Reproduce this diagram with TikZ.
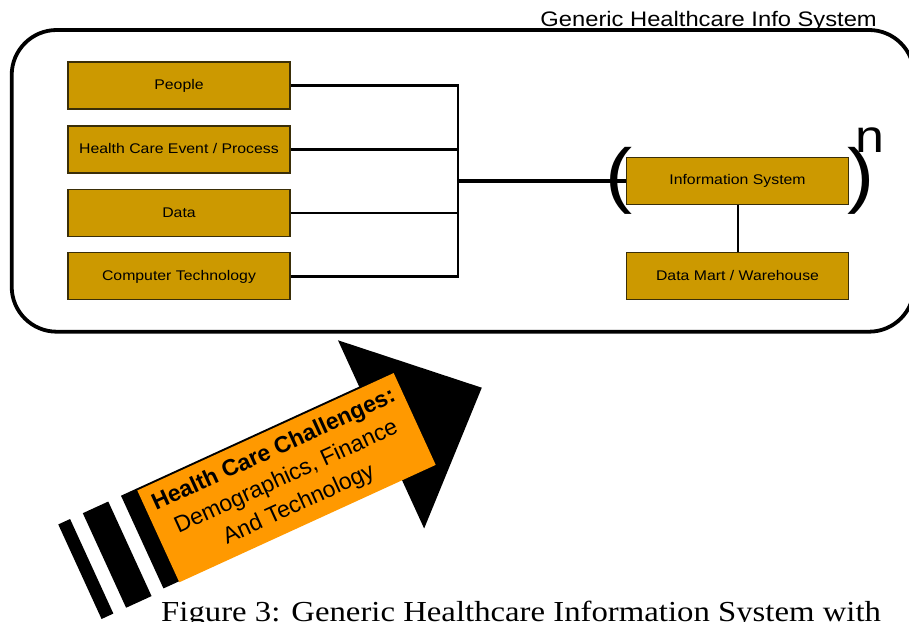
\documentclass[tikz,border=0pt]{standalone}
\usepackage{fontspec}
\setmainfont[FakeStretch=1.13]{Liberation Sans}
\newfontfamily\arrowfont{Liberation Sans}
\newfontfamily\captionfont[FakeStretch=1.13]{Liberation Serif}
\usetikzlibrary{calc}
\definecolor{boxgold}{HTML}{CC9900}
\definecolor{boxedge}{HTML}{3A2E08}
\definecolor{challenge}{HTML}{FF9900}
\tikzstyle{box}=[draw=boxedge,fill=boxgold,line width=1.2pt,minimum width=222pt,minimum height=47pt,inner sep=0pt,text height=0.8em,text depth=0pt,font=\fontsize{14}{16}\selectfont]
\tikzstyle{link}=[line width=2.7pt]
\tikzstyle{trunk}=[line width=4.5pt]
\tikzstyle{paren}=[inner sep=0pt,font=\fontsize{72}{80}\selectfont]
\begin{document}
\begin{tikzpicture}[x=1pt,y=-1pt]
	\clip (0,0) rectangle (909,621);
	\draw[line width=3.8pt,rounded corners=45pt] (11.7,30) rectangle (914,331.7);
	\node[anchor=base east,inner sep=0pt,font=\fontsize{21}{24}\selectfont] (title) at (877,26) {Generic Healthcare Info System};
	\node[box] (people) at (179,85.5) {People};
	\node[box] (event) at (179,149.5) {Health Care Event / Process};
	\node[box] (data) at (179,213) {Data};
	\node[box] (tech) at (179,276.3) {Computer Technology};
	\coordinate (bus) at (458,180.8);
	\draw[link] (people.east) -| (bus);
	\draw[link] (event.east) -| (bus);
	\draw[link] (data.east) -| (bus);
	\draw[link] (tech.east) -| (bus);
	\node[box] (info) at (737.5,180.8) {Information System};
	\node[box] (mart) at (737.5,276.3) {Data Mart / Warehouse};
	\draw[trunk] (bus) -- (info.west);
	\draw[line width=2pt] (info.south) -- (mart.north);
	\node[paren] (lpar) at (619,181) {(};
	\node[paren] (rpar) at (861.5,181) {)};
	\node[anchor=base west,inner sep=0pt,font=\fontsize{46}{50}\selectfont] (power) at (855,152) {n};
	\begin{scope}[shift={(121,495.7)},rotate=24.6]
		\fill (-69,0) rectangle (-56,104);
		\fill (-42,0) rectangle (-14,104);
		\fill (0,0) rectangle (270,102);
		\fill (262,-51) -- (373,52) -- (262,156) -- cycle;
		\node[fill=challenge,rotate=24.6,minimum width=282pt,minimum height=101pt,inner sep=0pt,align=center,font=\arrowfont\fontsize{23}{30}\selectfont] (challenges) at (158,52.5) {{\bfseries Health Care Challenges:}\\Demographics, Finance\\And Technology};
	\end{scope}
	\node[anchor=base west,inner sep=0pt,font=\captionfont\fontsize{29}{32}\selectfont] (caption) at (161,621) {Figure 3: Generic Healthcare Information System with};
\end{tikzpicture}
\end{document}
